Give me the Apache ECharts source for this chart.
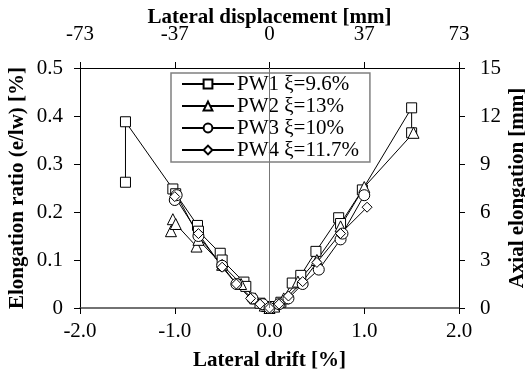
<!DOCTYPE html>
<html>
<head>
<meta charset="utf-8">
<script src="https://cdn.jsdelivr.net/npm/echarts@6/dist/echarts.min.js"></script>
<style>html,body{margin:0;padding:0;background:#fff;}#c{width:525px;height:374px;}</style>
</head>
<body>
<div id="c"></div>
<script>
var seriesNames = ['PW1 ξ=9.6%', 'PW2 ξ=13%', 'PW3 ξ=10%', 'PW4 ξ=11.7%'];
var topTickLabels = ['-73', '-37', '0', '37', '73'];
var pw1 = [[-1.52,0.262],[-1.52,0.388],[-1.02,0.248],[-0.99,0.238],[-0.76,0.172],[-0.75,0.16],[-0.52,0.114],[-0.5,0.1],[-0.27,0.054],[-0.25,0.045],[-0.1,0.01],[-0.03,0.003],[0.05,0.003],[0.12,0.012],[0.24,0.052],[0.33,0.068],[0.49,0.118],[0.73,0.188],[0.75,0.176],[0.98,0.246],[1.5,0.417],[1.5,0.365]];
var pw2 = [[-1.04,0.16],[-1.02,0.185],[-0.99,0.175],[-0.77,0.128],[-0.75,0.142],[-0.5,0.09],[-0.3,0.05],[-0.15,0.02],[-0.05,0.005],[0,0],[0.05,0.003],[0.15,0.02],[0.3,0.055],[0.5,0.1],[0.75,0.17],[1.0,0.252],[1.52,0.365]];
var pw3 = [[-1.0,0.225],[-0.98,0.235],[-0.75,0.15],[-0.5,0.088],[-0.35,0.05],[-0.18,0.02],[-0.07,0.008],[0,0],[0.1,0.008],[0.2,0.02],[0.35,0.05],[0.52,0.08],[0.75,0.143],[0.77,0.155],[1.0,0.235]];
var pw4 = [[-1.0,0.232],[-0.75,0.155],[-0.5,0.085],[-0.35,0.05],[-0.2,0.02],[-0.1,0.008],[0,0],[0.1,0.008],[0.2,0.025],[0.35,0.055],[0.5,0.095],[0.75,0.155],[1.03,0.21]];

var font = "'Liberation Serif', 'Times New Roman', serif";
var FS = 21;
var chart = echarts.init(document.getElementById('c'));
function mk(name, data, symbol, size) {
  return {
    name: name, type: 'line', data: data, xAxisIndex: 0, yAxisIndex: 0,
    symbol: symbol, symbolSize: size, showAllSymbol: true,
    lineStyle: {color: '#000', width: 1},
    itemStyle: {color: '#fff', borderColor: '#000', borderWidth: 1},
    emphasis: {disabled: true}, animation: false
  };
}
var s1 = mk(seriesNames[0], pw1, 'rect', 10);
s1.markLine = {silent: true, symbol: 'none', label: {show: false}, animation: false,
  lineStyle: {color: '#777', type: 'solid', width: 1}, data: [{xAxis: 0}]};
var titleStyle = {fontFamily: font, fontSize: FS, fontWeight: 'bold', color: '#000'};
var tickLabel = {fontFamily: font, fontSize: FS, color: '#000'};
chart.setOption({
  animation: false,
  textStyle: {fontFamily: font, color: '#000'},
  grid: {left: 80, right: 66, top: 68, bottom: 66, containLabel: false, outerBoundsMode: 'none'},
  legend: {
    orient: 'vertical', left: 171, top: 73,
    padding: [0, 11, 1, 10], itemWidth: 52, itemHeight: 11, itemGap: 0,
    backgroundColor: '#fff', borderColor: '#808080', borderWidth: 1.5,
    textStyle: {fontFamily: font, fontSize: FS, lineHeight: 22, height: 22, color: '#000', padding: [0,0,0,-2]},
    data: seriesNames
  },
  xAxis: [{
    type: 'value', position: 'bottom', min: -2, max: 2, interval: 1,
    name: 'Lateral drift [%]', nameLocation: 'middle', nameGap: 42, nameMoveOverlap: false,
    nameTextStyle: titleStyle,
    axisLine: {show: true, onZero: false, lineStyle: {color: '#444', width: 1.5}},
    axisTick: {show: true, inside: false, length: 6, lineStyle: {color: '#000'}},
    axisLabel: Object.assign({margin: 13, formatter: function(v){return v.toFixed(1);}}, tickLabel),
    splitLine: {show: false}
  }, {
    type: 'value', position: 'top', min: -2, max: 2, interval: 1,
    name: 'Lateral displacement [mm]', nameLocation: 'middle', nameGap: 40, nameMoveOverlap: false,
    nameTextStyle: titleStyle,
    axisLine: {show: true, onZero: false, lineStyle: {color: '#000', width: 1}},
    axisTick: {show: true, inside: false, length: 6, lineStyle: {color: '#000'}},
    axisLabel: Object.assign({margin: 23, formatter: function(v){ return topTickLabels[Math.round(v + 2)]; }}, tickLabel),
    splitLine: {show: false}
  }],
  yAxis: [{
    type: 'value', position: 'left', min: 0, max: 0.5, interval: 0.1,
    name: 'Elongation ratio (e/lw) [%]', nameLocation: 'middle', nameGap: 52, nameMoveOverlap: false,
    nameTextStyle: titleStyle,
    axisLine: {show: true, onZero: false, lineStyle: {color: '#000', width: 1}},
    axisTick: {show: true, inside: false, length: 6, lineStyle: {color: '#000'}},
    axisLabel: Object.assign({margin: 17, formatter: function(v){ return v === 0 ? '0' : v.toFixed(1); }}, tickLabel),
    splitLine: {show: false}
  }, {
    type: 'value', position: 'right', min: 0, max: 15, interval: 3,
    name: 'Axial elongation [mm]', nameLocation: 'middle', nameGap: 48, nameMoveOverlap: false,
    nameTextStyle: titleStyle,
    axisLine: {show: true, onZero: false, lineStyle: {color: '#000', width: 1}},
    axisTick: {show: true, inside: false, length: 6, lineStyle: {color: '#000'}},
    axisLabel: Object.assign({margin: 21}, tickLabel),
    splitLine: {show: false}
  }],
  series: [
    s1,
    mk(seriesNames[1], pw2, 'triangle', 11),
    mk(seriesNames[2], pw3, 'circle', 11),
    mk(seriesNames[3], pw4, 'diamond', 10)
  ]
});
</script>
</body>
</html>
